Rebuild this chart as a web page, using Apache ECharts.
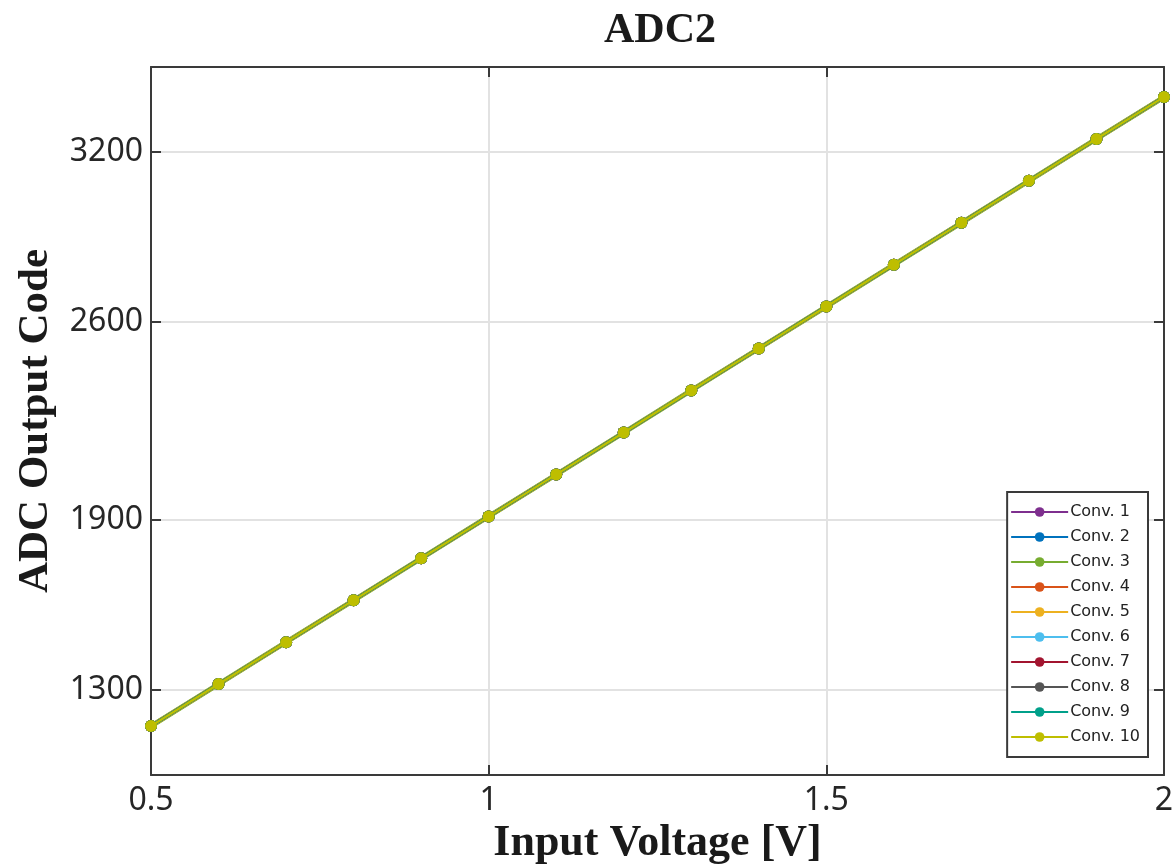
<!DOCTYPE html>
<html>
<head>
<meta charset="utf-8">
<title>ADC2</title>
<script src="https://cdn.jsdelivr.net/npm/echarts@6/dist/echarts.min.js"></script>
<style>
  html, body { margin: 0; padding: 0; background: #fff; }
  #chart { width: 1173px; height: 865px; }
</style>
</head>
<body>
<div id="chart"></div>
<script>
// input voltage sweep [V]
const voltages = [0.5, 0.6, 0.7, 0.8, 0.9, 1.0, 1.1, 1.2, 1.3, 1.4, 1.5, 1.6, 1.7, 1.8, 1.9, 2.0];
// output code (all 10 conversions overlap)
const codes = [1173, 1321, 1469, 1617, 1765, 1913, 2061, 2209, 2358, 2506, 2654, 2802, 2950, 3098, 3246, 3394];
const convNames = ['Conv. 1', 'Conv. 2', 'Conv. 3', 'Conv. 4', 'Conv. 5', 'Conv. 6', 'Conv. 7', 'Conv. 8', 'Conv. 9', 'Conv. 10'];
const convCodes = [codes, codes, codes, codes, codes, codes, codes, codes, codes, codes];
const yTicks = [1300, 1900, 2600, 3200];
const colors = ['#7E2F8E', '#0072BD', '#77AC30', '#D95319', '#EDB120', '#4DBEEE', '#A2142F', '#555555', '#00A08A', '#BEBE00'];
const widths = [3, 4, 5, 3, 4, 3, 3, 3, 3, 2.5];

const chart = echarts.init(document.getElementById('chart'));

const serif = '"Liberation Serif", "DejaVu Serif", serif';
const sans = '"Noto Sans", "Open Sans", sans-serif';

let option = {
    animation: false,
    color: colors,
    title: {
        text: 'ADC2',
        left: 655,
        top: 5,
        textAlign: 'center',
        textStyle: { fontFamily: serif, fontWeight: 'bold', fontSize: 42, color: '#1a1a1a' }
    },
    grid: { left: 151, right: 9, top: 67, bottom: 90, containLabel: false, outerBoundsMode: 'none' },
    legend: {
        orient: 'vertical',
        right: 25,
        bottom: 108,
        padding: [12, 8, 12, 3],
        itemWidth: 57,
        itemHeight: 12,
        itemGap: 9,
        backgroundColor: '#fff',
        borderColor: '#3a3a3a',
        borderWidth: 2,
        borderRadius: 0,
        textStyle: { fontFamily: '"DejaVu Sans", sans-serif', fontSize: 16, color: '#222', padding: [0, 0, 0, -3] },
        data: convNames
    },
    xAxis: [{
        type: 'value',
        min: 0.5,
        max: 2,
        interval: 0.5,
        name: 'Input Voltage [V]',
        nameLocation: 'middle',
        nameGap: 43,
        nameTextStyle: { fontFamily: serif, fontWeight: 'bold', fontSize: 44, color: '#1a1a1a' },
        axisLine: { show: true, onZero: false, lineStyle: { color: '#3a3a3a', width: 2 } },
        axisTick: { show: true, inside: true, length: 10, lineStyle: { color: '#3a3a3a', width: 2 } },
        axisLabel: { fontFamily: sans, fontSize: 32, color: '#262626', margin: 10,
            formatter: v => String(v) },
        splitLine: { show: true, lineStyle: { color: '#e2e2e2', width: 2 } }
    }, {
        type: 'value',
        position: 'top',
        min: 0.5,
        max: 2,
        interval: 0.5,
        axisLine: { show: true, onZero: false, lineStyle: { color: '#3a3a3a', width: 2 } },
        axisTick: { show: true, inside: true, length: 10, lineStyle: { color: '#3a3a3a', width: 2 } },
        axisLabel: { show: false },
        splitLine: { show: false }
    }],
    yAxis: [{
        type: 'value',
        min: 1000,
        max: 3500,
        name: 'ADC Output Code',
        nameLocation: 'middle',
        nameGap: 94,
        nameTextStyle: { fontFamily: serif, fontWeight: 'bold', fontSize: 43, color: '#1a1a1a' },
        axisLine: { show: true, onZero: false, lineStyle: { color: '#3a3a3a', width: 2 } },
        axisTick: { show: true, inside: true, length: 10, customValues: yTicks,
            lineStyle: { color: '#3a3a3a', width: 2 } },
        axisLabel: { fontFamily: sans, fontSize: 32, color: '#262626', margin: 8, customValues: yTicks,
            formatter: v => String(v) },
        splitLine: { show: true, lineStyle: { color: '#e2e2e2', width: 2 } }
    }, {
        type: 'value',
        position: 'right',
        min: 1000,
        max: 3500,
        axisLine: { show: true, onZero: false, lineStyle: { color: '#3a3a3a', width: 2 } },
        axisTick: { show: true, inside: true, length: 10, customValues: yTicks,
            lineStyle: { color: '#3a3a3a', width: 2 } },
        axisLabel: { show: false, customValues: yTicks },
        splitLine: { show: false }
    }],
    series: []
};

option.series = convNames.map((name, i) => {
    return {
        name: name,
        type: 'line',
        xAxisIndex: 0,
        yAxisIndex: 0,
        data: voltages.map((v, j) => [v, convCodes[i][j]]),
        symbol: 'circle',
        symbolSize: 12,
        lineStyle: { width: widths[i], color: colors[i] },
        itemStyle: { color: colors[i] },
        z: 2 + i
    };
});

chart.setOption(option);
</script>
</body>
</html>
